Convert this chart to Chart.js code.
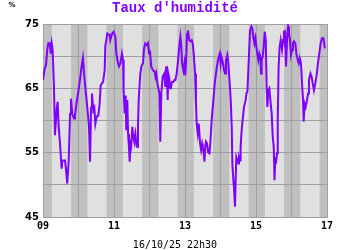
<!DOCTYPE html>
<html>
<head>
<meta charset="utf-8">
<script src="https://cdn.jsdelivr.net/npm/chart.js@4/dist/chart.umd.min.js"></script>
<style>
html,body{margin:0;padding:0;background:#fff;}
#wrap{width:350px;height:250px;}
</style>
</head>
<body>
<div id="wrap"><canvas id="c" width="350" height="250"></canvas></div>
<script>
// Hours since 09/10 00h00
const hours = [0,1.1,2.0,2.9,3.6,4.7,5.2,5.9,6.5,7.4,8.1,9.2,9.9,10.6,11.5,12.6,13.1,14.9,15.6,16.4,17.4,18.3,18.9,19.8,21.0,21.6,22.8,23.9,
25.0,26.1,27.0,27.9,29.1,30.2,31.1,31.8,32.5,33.1,34.0,34.7,35.4,36.3,37.4,38.3,39.0,40.6,41.7,42.1,43.5,45.1,45.5,46.7,47.8,
48.9,49.6,50.7,51.4,52.3,53.4,54.1,54.5,55.2,55.9,56.3,57.0,57.5,58.1,58.6,59.3,59.7,60.4,60.9,61.5,62.4,63.1,63.8,64.2,64.7,65.8,66.5,67.6,68.3,69.2,70.3,71.0,71.7,
72.3,73.2,74.4,75.5,76.0,76.6,77.3,78.7,79.3,80.0,80.9,82.0,82.7,83.2,83.8,84.3,84.7,85.4,85.9,86.5,87.2,88.1,88.8,89.5,90.4,91.3,92.2,92.9,93.5,94.0,94.9,95.6,
96.2,96.7,97.4,98.0,98.9,99.6,100.5,101.2,101.9,102.8,103.4,103.9,104.6,105.3,106.2,106.9,107.6,108.0,108.7,109.1,109.8,110.2,110.9,111.6,112.5,113.1,114.0,115.2,116.1,117.2,118.3,119.5,
120.1,120.6,121.7,122.4,123.1,123.7,124.6,125.3,126.2,126.9,127.6,128.0,128.7,129.1,129.8,130.3,130.7,131.4,132.1,132.5,133.2,133.6,134.3,135.2,135.9,137.0,137.5,138.2,138.8,139.5,140.0,140.9,141.5,142.2,142.9,143.6,
144.2,144.9,145.6,146.3,146.9,147.4,147.8,148.5,149.2,149.9,150.6,151.2,151.7,152.3,153.0,153.9,154.6,155.3,156.0,156.5,157.1,157.5,158.2,158.7,159.3,160.0,160.7,161.6,162.3,162.9,163.4,163.8,164.3,165.0,165.7,166.3,167.0,167.7,
168.4,169.0,169.7,170.6,171.3,172.2,172.9,173.6,174.2,174.7,175.1,175.8,176.2,176.9,177.6,178.3,179.2,179.8,180.8,181.6,182.3,183.2,184.1,185.0,185.9,186.8,187.7,188.6,189.6,190.5];
const humidity = [66.3,68.0,68.6,71.0,72.0,72.0,70.4,72.0,71.0,65.2,57.7,61.6,62.9,59.0,56.4,52.5,53.8,53.8,52.3,50.2,53.8,61.0,63.4,61.0,60.3,60.8,62.9,64.5,
66.3,68.4,69.7,66.8,64.0,61.4,59.0,53.6,62.0,64.2,61.6,62.0,59.5,60.6,60.8,62.6,65.5,66.0,67.8,71.5,73.5,73.3,72.5,73.5,73.8,
73.0,70.4,68.9,68.4,68.9,70.4,69.4,64.7,61.1,63.9,58.5,63.2,57.9,55.9,53.6,57.0,56.4,59.0,57.5,56.9,58.0,56.2,55.9,59.0,63.2,67.3,68.4,68.9,71.2,72.0,71.7,72.0,70.4,
70.9,68.4,67.8,67.6,66.8,67.3,65.8,64.2,56.7,64.2,66.8,67.3,65.2,68.4,66.8,63.2,67.3,66.5,65.0,65.2,66.0,66.0,66.3,66.3,67.3,69.4,71.7,73.0,71.5,68.9,67.8,68.9,
67.0,68.9,73.5,74.0,72.5,72.3,72.5,72.0,70.4,67.3,62.7,59.5,58.0,59.5,56.4,55.4,56.4,55.9,54.9,53.6,56.2,56.7,56.4,55.1,54.9,56.4,60.0,63.2,65.8,67.8,69.4,70.4,
68.9,69.9,68.9,67.8,67.3,69.4,70.2,68.9,65.8,63.2,59.0,53.3,50.7,49.7,46.6,51.2,54.3,53.8,53.3,54.3,53.8,55.9,58.5,60.6,62.1,63.2,64.2,64.5,67.8,71.5,74.0,74.6,74.3,73.0,72.0,72.8,
71.5,70.4,69.4,70.4,69.9,67.3,69.4,69.9,71.5,73.8,72.5,65.2,62.1,64.7,65.0,62.7,61.1,57.5,55.9,50.7,54.3,53.3,54.9,60.1,68.4,71.5,72.5,71.0,72.5,74.0,72.5,73.0,68.4,72.5,74.6,73.5,72.5,70.2,
71.0,72.0,72.3,72.0,70.4,69.4,68.9,69.7,69.2,67.8,65.8,63.2,59.8,62.6,62.1,62.9,64.2,66.3,67.3,66.8,65.8,64.7,65.8,67.0,68.9,70.4,72.0,72.8,72.8,71.2];
const firstDay = 9;
const dayTicks = [0,24,48,72,96,120,144,168,192];
const yTicks = [45,50,55,60,65,70,75];
const nightStart = 19; // hour of day
const nightEnd = 6;
const titleText = "Taux d'humidité";
const unitText = "%";
const dateText = "16/10/25 22h30";

const points = hours.map((h, i) => ({x: h, y: humidity[i]}));

const bandsPlugin = {
  id: 'bands',
  beforeDraw(chart) {
    const {ctx, chartArea: a, scales: {x}} = chart;
    ctx.save();
    ctx.fillStyle = '#e0e0e0';
    ctx.fillRect(a.left, a.top, a.right - a.left, a.bottom - a.top);
    ctx.fillStyle = '#c0c0c0';
    for (let d = 0; d <= 8; d++) {
      const s = Math.max(x.min, d * 24 - (24 - nightStart));
      const e = Math.min(x.max, d * 24 + nightEnd);
      if (e <= s) continue;
      const px1 = x.getPixelForValue(s), px2 = x.getPixelForValue(e);
      ctx.fillRect(px1, a.top, px2 - px1, a.bottom - a.top);
    }
    ctx.restore();
  },
  afterDraw(chart) {
    const ctx = chart.ctx;
    ctx.save();
    ctx.textAlign = 'center';
    ctx.textBaseline = 'middle';
    ctx.fillStyle = '#8000ff';
    ctx.font = 'bold 14px "Liberation Mono", monospace';
    ctx.fillText(titleText, 175, 8);
    ctx.fillStyle = '#000';
    ctx.font = '10px "DejaVu Sans Mono", monospace';
    ctx.fillText(dateText, 175, 245);
    ctx.font = 'bold 7px "DejaVu Sans", sans-serif';
    ctx.fillText(unitText, 12, 5);
    ctx.restore();
  }
};

new Chart(document.getElementById('c'), {
  type: 'line',
  data: {
    datasets: [{
      data: points,
      borderColor: '#7f00ff',
      borderWidth: 2,
      pointRadius: 0,
      tension: 0,
      fill: false
    }]
  },
  options: {
    responsive: false,
    animation: false,
    devicePixelRatio: 1,
    layout: {padding: {top: 24, right: 23, bottom: 0, left: 0}},
    plugins: {legend: {display: false}, tooltip: {enabled: false}, title: {display: false}},
    scales: {
      x: {
        type: 'linear', min: dayTicks[0], max: dayTicks[dayTicks.length - 1],
        afterBuildTicks: s => { s.ticks = dayTicks.map(v => ({value: v})); },
        afterFit: s => { s.height = 33; },
        grid: {color: '#a0a0a0', drawTicks: false, lineWidth: 1},
        border: {color: '#a0a0a0'},
        ticks: {
          autoSkip: false, maxRotation: 0, padding: 3, color: '#000',
          font: {family: '"DejaVu Sans Mono", monospace', size: 10, weight: 'bold'},
          callback: v => { const d = firstDay + v / 24; return d % 2 === 1 ? String(d).padStart(2, '0') : ''; }
        }
      },
      y: {
        min: yTicks[0], max: yTicks[yTicks.length - 1],
        afterBuildTicks: s => { s.ticks = yTicks.map(v => ({value: v})); },
        afterFit: s => { s.width = 43; },
        grid: {color: '#a0a0a0', drawTicks: false, lineWidth: 1},
        border: {color: '#a0a0a0'},
        ticks: {
          padding: 4, color: '#000',
          font: {family: '"DejaVu Sans", sans-serif', size: 10, weight: 'bold'},
          callback: v => (v % 10 === 5 ? String(v) : '')
        }
      }
    }
  },
  plugins: [bandsPlugin]
});
</script>
</body>
</html>
